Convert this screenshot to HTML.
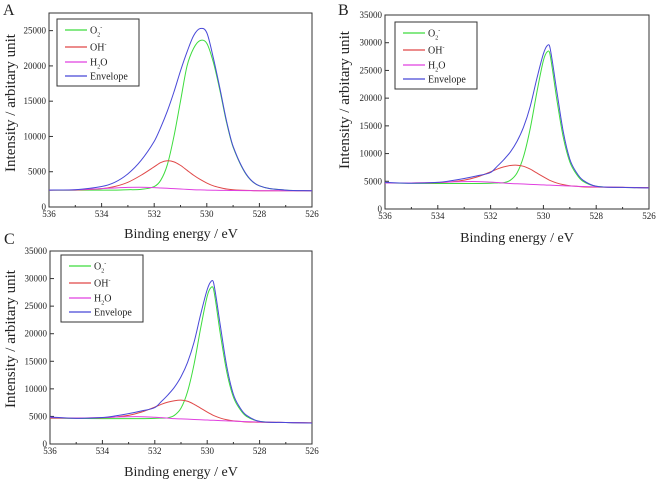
<!DOCTYPE html>
<html><head><meta charset="utf-8"><style>
body{margin:0;background:#fff;width:656px;height:480px;overflow:hidden}
svg text{font-family:"Liberation Serif",serif;fill:#222}
</style></head><body>
<svg id="root" width="656" height="480"></svg>
<script>
// ---- Panel A data ----
const xA=[536,535,534,533.5,533,532.5,532,531.75,531.5,531.25,531,530.75,530.5,530.25,530,529.75,529.5,529.25,529,528.5,528,527,526];
const greenA=[2400,2400,2400,2400,2450,2500,2900,3800,6000,10000,15000,20000,22500,23600,23200,20500,16500,12000,8500,4600,3000,2400,2300];
const redA=[2400,2400,2600,2900,3500,4500,5700,6300,6550,6400,5900,5200,4500,3900,3400,3000,2750,2550,2450,2350,2300,2300,2300];
const magA=[2400,2450,2600,2700,2780,2800,2750,2700,2650,2600,2550,2500,2450,2420,2400,2380,2360,2350,2340,2320,2300,2300,2300];
const envA=[2400,2450,2900,3500,4700,6600,9300,11300,13600,16300,19300,22000,24300,25300,24700,21100,16800,12200,8600,4650,3000,2400,2300];
// ---- Panel B data ----
const xB=[536,535,534,533.5,533,532.5,532,531.75,531.5,531.25,531,530.75,530.5,530.25,530,529.85,529.75,529.5,529.25,529,528.75,528.5,528,527,526];
const greenB=[4700,4650,4600,4600,4600,4600,4650,4700,4750,5200,6500,9500,14500,21000,26800,28400,27900,20000,13000,8500,6300,5000,4100,3900,3800];
const redB=[4700,4700,4750,4900,5200,5800,6700,7200,7600,7850,7900,7700,7200,6500,5800,5400,5150,4700,4400,4200,4100,4000,3950,3900,3850];
const magB=[4700,4700,4800,4900,4950,4950,4850,4780,4700,4600,4550,4500,4450,4400,4350,4300,4300,4250,4200,4150,4100,4050,4000,3900,3800];
const envB=[4800,4650,4800,5100,5500,6000,6600,7700,8900,10300,12200,14800,18500,23500,28000,29500,29100,21500,14000,9000,6600,5200,4100,3900,3800];
// ---- Panel C data ----
const xC=[536,535,534,533.5,533,532.5,532,531.75,531.5,531.25,531,530.75,530.5,530.25,530,529.85,529.75,529.5,529.25,529,528.75,528.5,528,527,526];
const greenC=[4700,4650,4600,4600,4600,4600,4650,4700,4750,5200,6500,9500,14500,21000,26800,28400,27900,20000,13000,8500,6300,5000,4100,3900,3800];
const redC=[4700,4700,4750,4900,5200,5800,6700,7200,7600,7850,7950,7750,7200,6500,5800,5400,5150,4700,4400,4200,4100,4000,3950,3900,3850];
const magC=[4800,4700,4800,4900,4950,4950,4850,4780,4700,4600,4550,4500,4450,4400,4350,4300,4300,4250,4200,4150,4100,4050,4000,3900,3800];
const envC=[4900,4650,4800,5100,5500,6000,6600,7700,8900,10300,12200,14800,18500,23500,28000,29500,29100,21500,14000,9000,6600,5200,4100,3900,3800];
const xTicks=[536,534,532,530,528,526];
const yTicksA=[0,5000,10000,15000,20000,25000];
const yTicksB=[0,5000,10000,15000,20000,25000,30000,35000];
const colors=["#3ddc3d","#e04848","#e040e0","#4848d8"];

const NS="http://www.w3.org/2000/svg";
const root=document.getElementById('root');
function mk(tag,attrs,parent){const e=document.createElementNS(NS,tag);for(const k in attrs)e.setAttribute(k,attrs[k]);(parent||root).appendChild(e);return e;}

function panel(id,L,R,T,B,ymax,yt,xs,series,leg,letter,letterPos,ytitle,xtitle){
  const g=mk('g',{});
  
  
  const sx=v=>L+(536-v)/10*(R-L);
  const sy=v=>B-v/ymax*(B-T);
  const fr=mk('rect',{x:L,y:T,width:R-L,height:B-T,fill:'none',stroke:'#333','stroke-width':1},g);
  
  
  for(let v=536;v>=526;v--){
    const major=xTicks.includes(v);const len=major?4:2;
    mk('line',{x1:sx(v),x2:sx(v),y1:B,y2:B-len,stroke:'#333'},g);
  }
  xTicks.forEach(v=>{
    const t=mk('text',{x:sx(v),y:B+10,'font-size':9,'text-anchor':'middle'},g);t.textContent=v;
    
    
  });
  yt.forEach(v=>{
    mk('line',{x1:L,x2:L+4,y1:sy(v),y2:sy(v),stroke:'#333'},g);
    const t=mk('text',{x:L-3,y:sy(v)+3,'font-size':9,'text-anchor':'end'},g);t.textContent=v;
    
    
  });
  const names=['o2-curve','oh-curve','h2o-curve','envelope-curve'];
  series.forEach((s,i)=>{
    const pts=xs.map((x,j)=>[sx(x),sy(s[j])]);
    const n=pts.length;
    const k=pts.map((p,j)=>{const a=pts[Math.max(0,j-1)],b=pts[Math.min(n-1,j+1)];return (b[1]-a[1])/(b[0]-a[0]);});
    let d='M'+pts[0][0]+','+pts[0][1];
    for(let j=0;j<n-1;j++){
      const p1=pts[j],p2=pts[j+1],dx=(p2[0]-p1[0])/3;
      d+='C'+(p1[0]+dx)+','+(p1[1]+k[j]*dx)+' '+(p2[0]-dx)+','+(p2[1]-k[j+1]*dx)+' '+p2[0]+','+p2[1];
    }
    const p=mk('path',{d:d,fill:'none',stroke:colors[i],'stroke-width':1},g);
    
    
  });
  const lg=mk('g',{},g);
  
  
  mk('rect',{x:leg[0],y:leg[1],width:82,height:67,fill:'#fff',stroke:'#333'},lg);
  const labs=['O<tspan font-size="6" dy="3">2</tspan><tspan font-size="6" dy="-7">-</tspan>','OH<tspan font-size="6" dy="-4">-</tspan>','H<tspan font-size="6" dy="3">2</tspan><tspan dy="-3">O</tspan>','Envelope'];
  [11,28,43,57].forEach((dy,i)=>{
    mk('line',{x1:leg[0]+8,x2:leg[0]+30,y1:leg[1]+dy,y2:leg[1]+dy,stroke:colors[i],'stroke-width':1.2},lg);
    const t=mk('text',{x:leg[0]+33,y:leg[1]+dy+3.5,'font-size':10},lg);t.innerHTML=labs[i];
    
    
  });
  const lt=mk('text',{x:letterPos[0],y:letterPos[1],'font-size':16},g);lt.textContent=letter;
  
  
  const yT=mk('text',{x:0,y:0,'font-size':15,'text-anchor':'middle',transform:'translate('+ytitle[0]+','+ytitle[1]+') rotate(-90)'},g);
  yT.textContent='Intensity / arbitary unit';
  
  
  const xT=mk('text',{x:xtitle[0],y:xtitle[1],'font-size':14,'text-anchor':'middle'},g);
  xT.textContent='Binding energy / eV';
  
  
}
panel('a',49,312,13,207,27500,yTicksA,xA,[greenA,redA,magA,envA],[57,19],'A',[3,15],[15,103],[181,238]);
panel('b',385,649,15,209,35000,yTicksB,xB,[greenB,redB,magB,envB],[395,22],'B',[338,15],[349,100],[517,242]);
panel('c',50,312,251,444,35000,yTicksB,xC,[greenC,redC,magC,envC],[61,255],'C',[4,244],[15,339],[181,476]);
</script>
</body></html>
